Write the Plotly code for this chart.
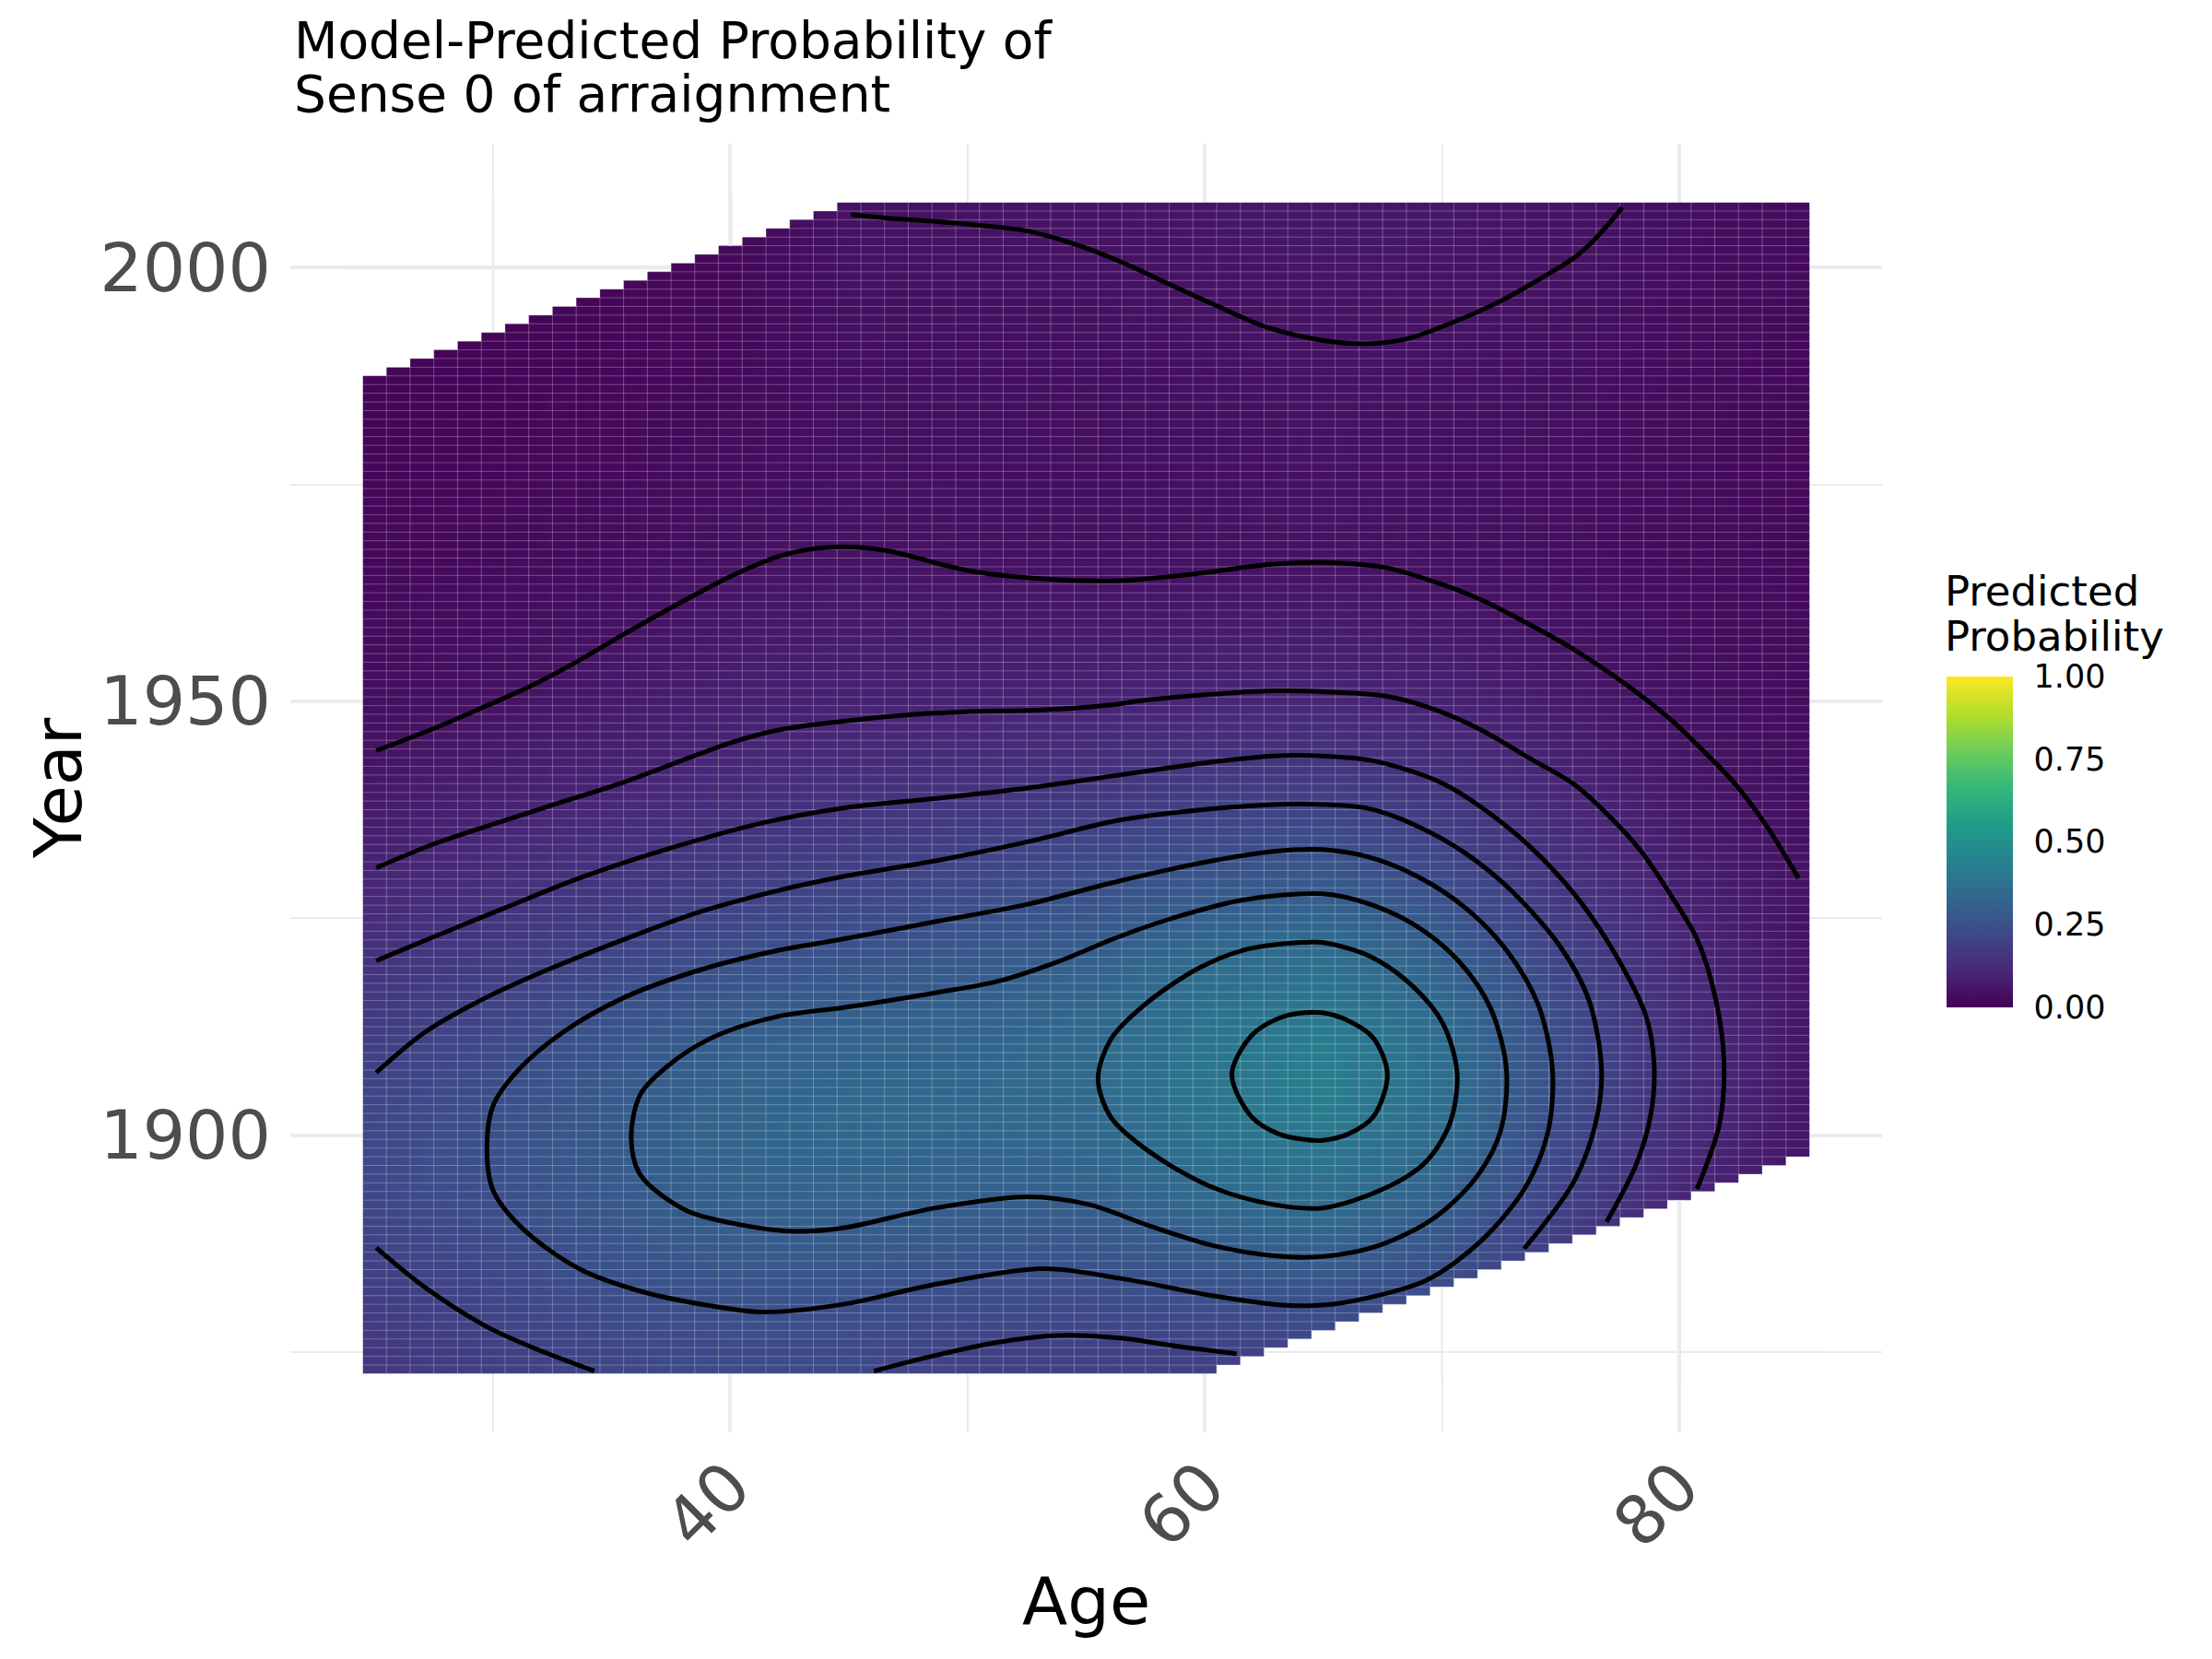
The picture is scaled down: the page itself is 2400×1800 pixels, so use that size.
import plotly.graph_objects as go

# ---------------- data ----------------
AGES = [25, 30, 35, 40, 45, 50, 55, 60, 65, 70, 75, 80, 85]
YEARS = [1875, 1880, 1885, 1890, 1895, 1900, 1905, 1910, 1915, 1920, 1925, 1930, 1935,
         1940, 1945, 1950, 1955, 1960, 1965, 1970, 1975, 1980, 1985, 1990, 1995, 2000, 2005]

# estimated predicted probability at each age (one list per age, values along YEARS)
P25 = [0.165, 0.180, 0.196, 0.210, 0.222, 0.223, 0.208, 0.190, 0.170, 0.150, 0.126, 0.104, 0.085, 0.066, 0.048, 0.040, 0.033, 0.027, 0.022, 0.018, 0.015, 0.012, 0.010, 0.009, 0.008, 0.008, 0.008]
P30 = [0.190, 0.208, 0.223, 0.239, 0.250, 0.252, 0.243, 0.225, 0.203, 0.180, 0.153, 0.128, 0.104, 0.085, 0.067, 0.049, 0.040, 0.033, 0.027, 0.022, 0.018, 0.015, 0.013, 0.012, 0.011, 0.011, 0.011]
P35 = [0.215, 0.237, 0.256, 0.272, 0.285, 0.290, 0.283, 0.268, 0.250, 0.214, 0.183, 0.155, 0.128, 0.101, 0.086, 0.071, 0.056, 0.045, 0.037, 0.030, 0.025, 0.021, 0.018, 0.016, 0.015, 0.015, 0.015]
P40 = [0.230, 0.250, 0.275, 0.300, 0.315, 0.322, 0.318, 0.306, 0.281, 0.250, 0.212, 0.180, 0.150, 0.124, 0.102, 0.088, 0.074, 0.061, 0.049, 0.041, 0.035, 0.030, 0.026, 0.023, 0.021, 0.020, 0.020]
P45 = [0.225, 0.248, 0.275, 0.302, 0.322, 0.330, 0.328, 0.318, 0.298, 0.266, 0.233, 0.199, 0.167, 0.139, 0.114, 0.095, 0.082, 0.070, 0.057, 0.047, 0.043, 0.041, 0.040, 0.041, 0.043, 0.046, 0.049]
P50 = [0.198, 0.230, 0.260, 0.290, 0.313, 0.327, 0.330, 0.322, 0.306, 0.282, 0.252, 0.217, 0.181, 0.146, 0.120, 0.096, 0.081, 0.066, 0.050, 0.044, 0.041, 0.039, 0.039, 0.040, 0.042, 0.046, 0.050]
P55 = [0.190, 0.225, 0.257, 0.287, 0.315, 0.335, 0.345, 0.340, 0.325, 0.305, 0.274, 0.238, 0.203, 0.156, 0.126, 0.098, 0.081, 0.064, 0.048, 0.043, 0.040, 0.038, 0.038, 0.040, 0.043, 0.048, 0.054]
P60 = [0.197, 0.237, 0.275, 0.318, 0.355, 0.378, 0.390, 0.387, 0.370, 0.348, 0.308, 0.263, 0.220, 0.177, 0.137, 0.104, 0.085, 0.067, 0.050, 0.045, 0.042, 0.041, 0.042, 0.045, 0.049, 0.053, 0.058]
P65 = [0.200, 0.246, 0.291, 0.336, 0.372, 0.403, 0.428, 0.422, 0.397, 0.364, 0.325, 0.278, 0.230, 0.183, 0.141, 0.107, 0.087, 0.070, 0.053, 0.048, 0.046, 0.046, 0.047, 0.049, 0.052, 0.057, 0.062]
P70 = [0.180, 0.215, 0.254, 0.290, 0.322, 0.350, 0.362, 0.358, 0.338, 0.309, 0.273, 0.233, 0.192, 0.154, 0.123, 0.096, 0.079, 0.062, 0.048, 0.043, 0.041, 0.041, 0.043, 0.047, 0.051, 0.055, 0.060]
P75 = [0.130, 0.155, 0.175, 0.190, 0.210, 0.228, 0.240, 0.242, 0.232, 0.207, 0.179, 0.148, 0.127, 0.105, 0.088, 0.072, 0.056, 0.046, 0.040, 0.037, 0.036, 0.037, 0.039, 0.042, 0.045, 0.050, 0.054]
P80 = [0.070, 0.080, 0.090, 0.100, 0.110, 0.124, 0.135, 0.134, 0.127, 0.115, 0.102, 0.088, 0.075, 0.064, 0.054, 0.046, 0.040, 0.035, 0.032, 0.030, 0.029, 0.029, 0.030, 0.031, 0.033, 0.036, 0.039]
P85 = [0.040, 0.045, 0.050, 0.054, 0.057, 0.060, 0.062, 0.062, 0.060, 0.057, 0.053, 0.050, 0.045, 0.040, 0.036, 0.032, 0.029, 0.027, 0.025, 0.024, 0.023, 0.023, 0.023, 0.024, 0.025, 0.026, 0.028]

# tile grid extent and birth-cohort limits of the data
AGE_MIN, AGE_MAX = 25, 85
YEAR_MIN, YEAR_MAX = 1873, 2007
BIRTH_MIN, BIRTH_MAX = 1813, 1962

# contour lines (age, year), levels 0.05 .. 0.40
C005_TOP = [(45.08, 2006.1), (46.57, 2005.7), (49.55, 2005.1), (52.53, 2004.2), (54.6, 2002.6), (56.41, 2000.7),
            (58.48, 1998.1), (60.56, 1995.5), (62.63, 1993.1), (64.96, 1991.6), (66.83, 1991.2), (68.57, 1991.8),
            (70.31, 1993.5), (72.45, 1996.1), (74.32, 1999.0), (75.66, 2001.3), (76.6, 2003.7), (77.6, 2006.9)]
C005 = [(25.07, 1944.3), (27.54, 1946.9), (29.74, 1949.5), (31.55, 1951.7), (33.62, 1954.7), (35.56, 1957.8),
        (37.51, 1960.8), (40.1, 1964.5), (42.04, 1966.7), (43.33, 1967.5), (44.76, 1967.8), (46.7, 1967.3),
        (49.94, 1965.1), (53.18, 1964.1), (56.41, 1963.9), (59.65, 1964.7), (62.89, 1965.8), (64.96, 1966.0),
        (67.62, 1965.4), (69.64, 1963.8), (71.65, 1961.7), (73.65, 1958.9), (75.66, 1955.8), (77.67, 1952.1),
        (79.68, 1947.8), (81.01, 1944.3), (82.35, 1940.5), (83.69, 1935.6), (85.03, 1929.6)]
C010 = [(25.07, 1930.8), (27.54, 1933.6), (29.74, 1935.6), (32.33, 1937.9), (35.44, 1940.6), (37.5, 1942.7),
        (40.1, 1945.3), (42.04, 1946.7), (44.76, 1947.7), (47.35, 1948.4), (49.94, 1948.8), (53.18, 1949.0),
        (55.77, 1949.5), (57.71, 1950.2), (60.3, 1950.8), (62.89, 1951.2), (64.96, 1951.1), (67.62, 1950.6),
        (69.64, 1949.1), (71.65, 1946.7), (73.65, 1943.5), (75.53, 1940.5), (77.0, 1936.9), (78.34, 1932.9),
        (79.68, 1927.5), (80.75, 1922.6), (81.55, 1915.5), (81.89, 1908.3), (81.69, 1901.2), (80.75, 1893.8)]
C015 = [(25.07, 1920.1), (27.54, 1922.9), (30.51, 1926.2), (33.62, 1929.6), (37.51, 1933.1), (41.39, 1936.0),
        (44.76, 1937.7), (48.64, 1938.8), (52.53, 1940.0), (56.41, 1941.5), (60.3, 1943.0), (62.89, 1943.7),
        (64.96, 1943.7), (66.97, 1943.2), (68.97, 1941.7), (70.05, 1940.5), (71.65, 1937.8), (73.65, 1933.4),
        (75.66, 1927.5), (77.4, 1920.4), (78.6, 1913.7), (78.94, 1908.3), (78.81, 1902.5), (78.2, 1896.7),
        (76.94, 1890.0)]
C020_A = [(25.07, 1907.2), (27.15, 1911.9), (29.74, 1915.9), (32.33, 1919.1), (35.56, 1922.6), (38.8, 1925.8),
          (42.04, 1928.2), (44.76, 1929.8), (48.64, 1931.6), (52.53, 1933.8), (56.41, 1936.3), (60.3, 1937.6),
          (62.89, 1938.1), (64.96, 1938.1), (66.97, 1937.6), (68.97, 1935.6), (70.98, 1932.5), (72.99, 1928.0),
          (74.99, 1921.7), (76.2, 1915.5), (76.73, 1907.4), (76.46, 1901.2), (75.53, 1894.5), (73.46, 1886.9)]
C020_B = [(25.07, 1887.0), (27.15, 1882.4), (29.74, 1877.9), (31.68, 1875.5), (34.27, 1872.8)]
C020_C = [(46.05, 1872.8), (48.64, 1874.6), (51.24, 1876.1), (53.82, 1876.9), (56.41, 1876.6), (59.0, 1875.6),
          (61.34, 1874.8)]
C025 = [(44.76, 1922.6), (48.64, 1924.6), (52.53, 1926.6), (56.41, 1929.3), (60.3, 1931.6), (62.89, 1932.7),
        (64.96, 1932.9), (66.97, 1932.0), (68.97, 1929.8), (70.98, 1926.2), (72.72, 1921.3), (74.06, 1915.0),
        (74.66, 1907.4), (74.46, 1900.3), (73.52, 1894.0), (71.65, 1887.8), (69.37, 1883.3), (66.97, 1881.3),
        (64.96, 1880.4), (62.89, 1880.5), (60.3, 1881.5), (56.41, 1883.5), (53.18, 1884.6), (48.64, 1882.8),
        (44.76, 1880.5), (41.39, 1879.6), (39.45, 1880.2), (36.21, 1882.0), (33.62, 1884.6), (31.29, 1889.1),
        (30.0, 1893.6), (29.74, 1898.7), (30.0, 1903.4), (31.03, 1907.4), (32.97, 1911.9), (35.56, 1915.9),
        (38.8, 1919.1), (42.04, 1921.3), (44.76, 1922.6)]
C030 = [(44.76, 1914.7), (48.64, 1916.4), (51.24, 1917.7), (53.82, 1920.0), (56.41, 1922.9), (59.0, 1925.3),
        (61.6, 1927.1), (64.96, 1927.8), (66.97, 1926.6), (68.97, 1924.0), (70.72, 1920.0), (72.05, 1914.6),
        (72.72, 1907.4), (72.45, 1900.3), (71.38, 1894.9), (69.64, 1890.4), (67.37, 1887.3), (64.96, 1886.0),
        (62.89, 1886.1), (60.3, 1887.3), (57.71, 1889.5), (55.12, 1892.0), (52.53, 1892.9), (48.64, 1891.6),
        (44.76, 1889.3), (42.69, 1888.9), (40.75, 1889.5), (38.15, 1891.3), (36.21, 1895.4), (35.82, 1899.7),
        (36.21, 1904.7), (37.51, 1908.3), (39.45, 1911.5), (42.04, 1913.7), (44.76, 1914.7)]
C035 = [(59.65, 1919.1), (61.6, 1921.3), (64.06, 1922.2), (64.96, 1922.2), (66.97, 1920.6), (68.71, 1917.3),
        (70.05, 1912.8), (70.64, 1907.0), (70.31, 1901.2), (69.24, 1896.7), (67.37, 1893.6), (64.96, 1891.6),
        (62.89, 1892.0), (60.3, 1894.0), (57.71, 1898.0), (56.03, 1902.1), (55.5, 1906.5), (56.03, 1911.0),
        (57.45, 1915.0), (59.65, 1919.1)]
C040 = [(64.18, 1914.1), (64.96, 1914.1), (66.03, 1913.2), (67.1, 1911.2), (67.7, 1907.0), (67.1, 1902.1),
        (66.03, 1900.1), (64.96, 1899.4), (64.18, 1899.5), (63.15, 1900.1), (61.98, 1902.1), (61.14, 1907.0),
        (61.98, 1911.5), (63.15, 1913.5), (64.18, 1914.1)]

X_MAJOR = [40, 60, 80]
X_MINOR = [30, 50, 70]
Y_MAJOR = [1900, 1950, 2000]
Y_MINOR = [1875, 1925, 1975]
CB_TICKS = [0, 0.25, 0.5, 0.75, 1]
CB_LABELS = ["0.00", "0.25", "0.50", "0.75", "1.00"]

# ---------------- layout geometry ----------------
W, H = 2400, 1800
ML, MR, MT, MB = 315, 358, 156, 246
PW, PH = W - ML - MR, H - MT - MB
FONT = "DejaVu Sans"
GRID = "#EBEBEB"
MAJW, MINW = 4.4, 2.2

# ggplot-style 5% expansion around the tile extent
x_lo, x_hi = AGE_MIN - 0.5, AGE_MAX + 0.5
y_lo, y_hi = YEAR_MIN - 0.5, YEAR_MAX + 0.5
xr = [x_lo - 0.05 * (x_hi - x_lo), x_hi + 0.05 * (x_hi - x_lo)]
yr = [y_lo - 0.05 * (y_hi - y_lo), y_hi + 0.05 * (y_hi - y_lo)]
dom = [0.05 / 1.1, 1.05 / 1.1]
EXT = 0.35  # how far masks reach past the tile box (data units)


def PX(px):
    return (px - ML) / PW


def PY(py):
    return (MT + PH - py) / PH


def top_edge(a):
    return min(YEAR_MAX, a + BIRTH_MAX) + 0.5


def bottom_edge(a):
    return max(YEAR_MIN, a + BIRTH_MIN) - 0.5


fig = go.Figure()

# invisible trace holding the main (gridline) axes
fig.add_trace(go.Scatter(x=[50], y=[1950], mode="markers", marker=dict(opacity=0),
                         showlegend=False, hoverinfo="skip"))

# heatmap of predicted probability, clipped to the tile box via x2/y2
z = [list(r) for r in zip(P25, P30, P35, P40, P45, P50, P55, P60, P65, P70, P75, P80, P85)]
fig.add_trace(go.Heatmap(
    x=AGES, y=YEARS, z=z, zsmooth="best", colorscale="Viridis", zmin=0, zmax=1,
    xaxis="x2", yaxis="y2", hoverinfo="skip",
    colorbar=dict(
        thickness=72, thicknessmode="pixels", len=359, lenmode="pixels",
        x=PX(2112), xanchor="left", xref="paper",
        y=PY(913), yanchor="middle", yref="paper",
        xpad=0, ypad=0, outlinewidth=0, borderwidth=0,
        tickvals=CB_TICKS, ticktext=CB_LABELS,
        ticks="outside", ticklen=16, tickcolor="rgba(0,0,0,0)",
        tickfont=dict(size=35, color="black", family=FONT),
    ),
))

# faint seams between tiles
sx, sy = [], []
for a in range(AGE_MIN, AGE_MAX):
    sx += [a + 0.5, a + 0.5, None]
    sy += [y_lo, y_hi, None]
for yv in range(YEAR_MIN, YEAR_MAX):
    sx += [x_lo, x_hi, None]
    sy += [yv + 0.5, yv + 0.5, None]
fig.add_trace(go.Scatter(x=sx, y=sy, mode="lines", line=dict(color="rgba(255,255,255,0.27)", width=1),
                         xaxis="x2", yaxis="y2", hoverinfo="skip", showlegend=False))

# contour lines
for c in [C005_TOP, C005, C010, C015, C020_A, C020_B, C020_C, C025, C030, C035, C040]:
    fig.add_trace(go.Scatter(x=[p[0] for p in c], y=[p[1] for p in c], mode="lines",
                             line=dict(color="black", width=5, shape="spline", smoothing=0.9),
                             xaxis="x2", yaxis="y2", hoverinfo="skip", showlegend=False))

shapes = []

# white masks outside the birth-cohort band (staircase), drawn above the tiles
cols_tl = [a for a in range(AGE_MIN, AGE_MAX + 1) if top_edge(a) < y_hi]
p = "M %f,%f" % (x_lo - EXT, top_edge(cols_tl[0]))
for a in cols_tl:
    p += " L %f,%f L %f,%f" % (a - 0.5, top_edge(a), a + 0.5, top_edge(a))
p += " L %f,%f L %f,%f Z" % (cols_tl[-1] + 0.5, y_hi + EXT, x_lo - EXT, y_hi + EXT)
shapes.append(dict(type="path", path=p, xref="x", yref="y", fillcolor="white",
                   line=dict(width=0), layer="above"))
cols_br = [a for a in range(AGE_MIN, AGE_MAX + 1) if bottom_edge(a) > y_lo]
p = "M %f,%f" % (cols_br[0] - 0.5, y_lo - EXT)
for a in cols_br:
    p += " L %f,%f L %f,%f" % (a - 0.5, bottom_edge(a), a + 0.5, bottom_edge(a))
p += " L %f,%f L %f,%f Z" % (x_hi + EXT, bottom_edge(cols_br[-1]), x_hi + EXT, y_lo - EXT)
shapes.append(dict(type="path", path=p, xref="x", yref="y", fillcolor="white",
                   line=dict(width=0), layer="above"))

# gridline pieces that fall inside the white masks
for gv, gw in [(v, MAJW) for v in X_MAJOR] + [(v, MINW) for v in X_MINOR]:
    if top_edge(gv) < y_hi:
        shapes.append(dict(type="line", xref="x", yref="y", x0=gv, x1=gv, y0=top_edge(gv),
                           y1=y_hi + 2 * EXT, line=dict(color=GRID, width=gw), layer="above"))
    if bottom_edge(gv) > y_lo:
        shapes.append(dict(type="line", xref="x", yref="y", x0=gv, x1=gv, y0=y_lo - 2 * EXT,
                           y1=bottom_edge(gv), line=dict(color=GRID, width=gw), layer="above"))
for gv, gw in [(v, MAJW) for v in Y_MAJOR] + [(v, MINW) for v in Y_MINOR]:
    ct = [a for a in range(AGE_MIN, AGE_MAX + 1) if top_edge(a) < gv]
    cb = [a for a in range(AGE_MIN, AGE_MAX + 1) if bottom_edge(a) > gv]
    if ct:
        shapes.append(dict(type="line", xref="x", yref="y", x0=x_lo - 2 * EXT, x1=max(ct) + 0.5,
                           y0=gv, y1=gv, line=dict(color=GRID, width=gw), layer="above"))
    if cb:
        shapes.append(dict(type="line", xref="x", yref="y", x0=min(cb) - 0.5, x1=x_hi + 2 * EXT,
                           y0=gv, y1=gv, line=dict(color=GRID, width=gw), layer="above"))

# colorbar white tick marks (both edges of the bar)
bar_l, bar_r, bar_t, bar_b = 2112, 2184, 733.5, 1092.5
for v in [0.25, 0.5, 0.75]:
    yy = bar_b - v * (bar_b - bar_t)
    for x0, x1 in [(bar_l, bar_l + 14), (bar_r - 14, bar_r)]:
        shapes.append(dict(type="line", xref="paper", yref="paper", x0=PX(x0), x1=PX(x1),
                           y0=PY(yy), y1=PY(yy), line=dict(color="white", width=1.5), layer="above"))

annotations = [
    dict(text="Model-Predicted Probability of", x=PX(317), y=PY(43.7), xref="paper", yref="paper",
         xanchor="left", yanchor="middle", showarrow=False, font=dict(size=55, color="black", family=FONT)),
    dict(text="Sense 0 of arraignment", x=PX(317), y=PY(101.7), xref="paper", yref="paper",
         xanchor="left", yanchor="middle", showarrow=False, font=dict(size=55, color="black", family=FONT)),
    dict(text="Predicted", x=PX(2108), y=PY(641), xref="paper", yref="paper",
         xanchor="left", yanchor="middle", showarrow=False, font=dict(size=45, color="black", family=FONT)),
    dict(text="Probability", x=PX(2108), y=PY(690.4), xref="paper", yref="paper",
         xanchor="left", yanchor="middle", showarrow=False, font=dict(size=45, color="black", family=FONT)),
    dict(text="Age", x=PX(ML + PW / 2), y=PY(1737), xref="paper", yref="paper",
         xanchor="center", yanchor="middle", showarrow=False, font=dict(size=72, color="black", family=FONT)),
    dict(text="Year", x=PX(63), y=PY(MT + PH / 2), xref="paper", yref="paper", textangle=-90,
         xanchor="center", yanchor="middle", showarrow=False, font=dict(size=72, color="black", family=FONT)),
]

axis_common = dict(showline=False, zeroline=False, ticks="", showgrid=True, gridcolor=GRID, gridwidth=MAJW,
                   tickfont=dict(size=73, color="#4D4D4D", family=FONT))
fig.update_layout(
    width=W, height=H, margin=dict(l=ML, r=MR, t=MT, b=MB, autoexpand=False),
    paper_bgcolor="white", plot_bgcolor="white", showlegend=False,
    font=dict(family=FONT),
    xaxis=dict(range=xr, tickvals=X_MAJOR, ticktext=[str(v) for v in X_MAJOR], tickangle=-45,
               minor=dict(tickvals=X_MINOR, showgrid=True, gridcolor=GRID, gridwidth=MINW, ticks=""),
               **axis_common),
    yaxis=dict(range=yr, tickvals=Y_MAJOR, ticktext=[str(v) for v in Y_MAJOR], ticklabelstandoff=20,
               minor=dict(tickvals=Y_MINOR, showgrid=True, gridcolor=GRID, gridwidth=MINW, ticks=""),
               **axis_common),
    xaxis2=dict(domain=dom, range=[x_lo, x_hi], anchor="y2", visible=False, showgrid=False, zeroline=False),
    yaxis2=dict(domain=dom, range=[y_lo, y_hi], anchor="x2", visible=False, showgrid=False, zeroline=False),
    shapes=shapes, annotations=annotations,
)

fig.write_html("out.html")
